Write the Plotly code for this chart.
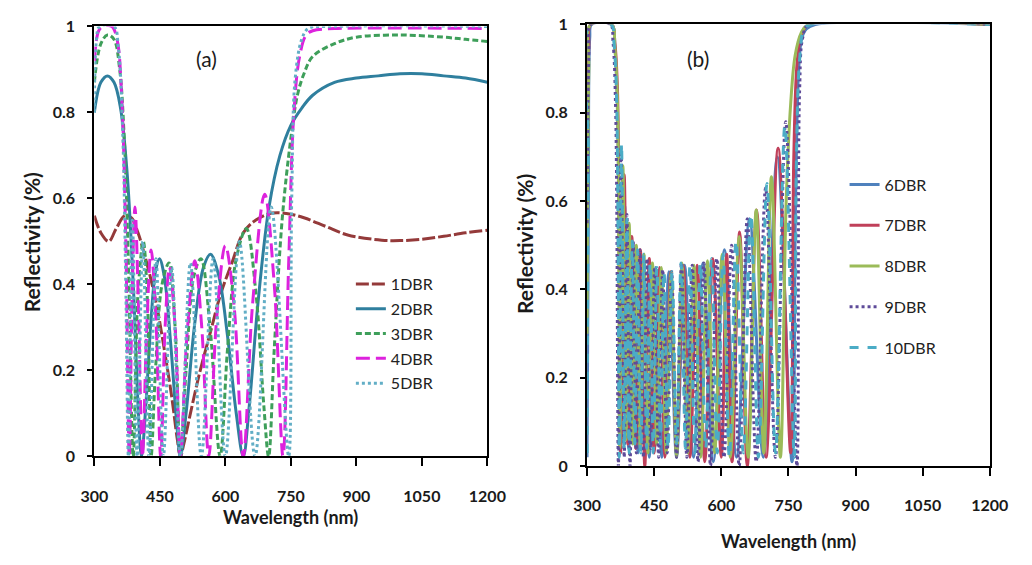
import plotly.graph_objects as go

# ---------------- data: panel (a) ----------------
x_ticks = [300, 450, 600, 750, 900, 1050, 1200]
x_tick_text = ["300", "450", "600", "750", "900", "1050", "1200"]
y_ticks = [0, 0.2, 0.4, 0.6, 0.8, 1.0]
y_tick_text = ["0", "0.2", "0.4", "0.6", "0.8", "1"]

wl_1 = [300,315,333,350,370,385,400,420,441,460,477,490,497,505,520,540,566,590,615,641,670,707,740,780,830,880,958,1000,1050,1100,1150,1200]
r_1 = [0.56,0.52,0.50,0.53,0.56,0.555,0.52,0.45,0.36,0.25,0.14,0.04,0.0,0.03,0.10,0.19,0.29,0.38,0.45,0.52,0.55,0.566,0.565,0.555,0.535,0.515,0.503,0.502,0.505,0.512,0.52,0.526]

wl_2 = [300,315,330,345,360,375,390,400,408,418,430,440,449,460,475,490,497,510,530,550,566,585,605,625,641,655,675,700,725,750,775,800,850,900,950,1000,1050,1100,1150,1200]
r_2 = [0.80,0.87,0.885,0.87,0.81,0.66,0.38,0.12,0.0,0.12,0.32,0.43,0.46,0.42,0.26,0.06,0.0,0.10,0.31,0.44,0.47,0.42,0.28,0.10,0.0,0.12,0.36,0.58,0.70,0.77,0.81,0.84,0.87,0.88,0.885,0.89,0.89,0.885,0.88,0.87]

wl_3 = [300,315,330,345,358,368,378,389,400,412,422,430,440,455,471,485,497,510,528,544,565,588,605,625,648,670,688,699,712,730,750,765,780,800,850,900,1000,1100,1150,1200]
r_3 = [0.87,0.96,0.98,0.97,0.90,0.75,0.45,0.0,0.38,0.50,0.35,0.0,0.20,0.40,0.45,0.30,0.0,0.20,0.42,0.46,0.30,0.0,0.25,0.46,0.53,0.38,0.12,0.0,0.25,0.55,0.74,0.84,0.89,0.93,0.96,0.975,0.98,0.975,0.97,0.965]

wl_4 = [300,310,320,340,352,362,372,380,386,393,401,410,420,430,441,452,462,472,485,497,512,530,546,562,580,600,620,641,662,690,712,732,745,757,770,785,800,850,1200]
r_4 = [0.92,0.99,1.0,1.0,0.97,0.85,0.50,0.0,0.35,0.58,0.35,0.0,0.30,0.48,0.32,0.0,0.30,0.44,0.30,0.0,0.28,0.455,0.30,0.0,0.32,0.49,0.35,0.0,0.35,0.61,0.40,0.0,0.45,0.80,0.93,0.98,0.99,0.995,0.995]

wl_5 = [300,305,312,345,355,365,372,378,387,398,411,425,441,458,477,497,520,545,572,600,632,668,705,745,752,760,775,790,850,1200]
r_5 = [0.80,0.97,1.0,1.0,0.95,0.75,0.40,0.0,0.55,0.0,0.50,0.0,0.46,0.0,0.44,0.0,0.45,0.0,0.46,0.0,0.50,0.0,0.58,0.0,0.60,0.88,0.97,0.995,1.0,1.0]

# ---------------- data: panel (b) ----------------
wl_6 = [300,303,306,310,355,362,368,372,376,384,393,403,414,426,439,453,467,483,500,518,538,559,582,607,634,663,694,725,758,766,773,780,790,810,1200]
r_6 = [0.02,0.6,0.97,1.0,1.0,0.95,0.8,0.5,0.05,0.59,0.04,0.50,0.03,0.47,0.02,0.45,0.02,0.44,0.02,0.455,0.02,0.46,0.01,0.49,0.02,0.56,0.02,0.70,0.01,0.6,0.9,0.97,0.99,1.0,1.0]

wl_7 = [300,304,308,355,362,368,375,383,391,400,409,419,429,439,450,462,474,487,500,515,530,546,563,581,600,612,624,641,658,679,700,727,755,762,770,780,795,1200]
r_7 = [0.76,0.95,1.0,1.0,0.96,0.85,0.03,0.66,0.05,0.52,0.04,0.49,0.0,0.47,0.03,0.45,0.02,0.44,0.03,0.455,0.02,0.455,0.01,0.47,0.02,0.48,0.01,0.53,0.0,0.58,0.02,0.72,0.03,0.7,0.92,0.98,1.0,1.0]

wl_8 = [300,304,308,355,362,368,373,380,387,394,402,410,419,427,436,446,456,466,477,488,500,512,525,539,554,569,585,602,620,640,660,678,695,712,732,745,755,765,778,795,1200]
r_8 = [0.30,0.9,1.0,1.0,0.95,0.82,0.04,0.68,0.06,0.55,0.05,0.50,0.04,0.48,0.03,0.46,0.05,0.45,0.03,0.44,0.02,0.46,0.03,0.455,0.02,0.465,0.03,0.48,0.02,0.52,0.02,0.58,0.03,0.655,0.02,0.6,0.82,0.93,0.98,1.0,1.0]

wl_9 = [300,304,308,352,358,364,370,376,383,389,396,403,410,418,426,434,442,451,460,469,479,489,500,511,523,535,548,561,576,590,606,623,640,658,678,699,721,744,769,775,782,795,1200]
r_9 = [0.55,0.93,1.0,1.0,0.96,0.8,0.0,0.72,0.02,0.57,0.0,0.51,0.03,0.49,0.02,0.47,0.04,0.45,0.02,0.445,0.03,0.44,0.02,0.46,0.02,0.455,0.01,0.46,0.0,0.47,0.02,0.50,0.0,0.56,0.01,0.63,0.02,0.78,0.0,0.85,0.97,1.0,1.0]

wl_10 = [300,303,307,354,360,366,372,377,383,389,394,401,407,413,420,427,433,441,448,456,464,472,481,490,500,510,520,530,541,553,565,578,591,604,618,633,649,666,683,702,721,742,763,768,775,785,800,1200]
r_10 = [0.03,0.7,1.0,1.0,0.96,0.83,0.02,0.73,0.04,0.56,0.03,0.51,0.05,0.49,0.03,0.48,0.04,0.46,0.03,0.45,0.05,0.44,0.04,0.44,0.05,0.46,0.04,0.455,0.03,0.46,0.04,0.47,0.03,0.48,0.02,0.51,0.03,0.57,0.02,0.64,0.03,0.77,0.02,0.7,0.92,0.99,1.0,1.0]

names_a = ["1DBR", "2DBR", "3DBR", "4DBR", "5DBR"]
names_b = ["6DBR", "7DBR", "8DBR", "9DBR", "10DBR"]

# ---------------- styles ----------------
W, H = 1032, 565
def px_x(p): return p / W
def px_y(p): return (H - p) / H

FONT = "Lato"
series_a = [
    (wl_1, r_1, "#943A3A", "13px,3px"),
    (wl_2, r_2, "#2F7F9E", "solid"),
    (wl_3, r_3, "#3E9F5A", "6px,3px"),
    (wl_4, r_4, "#DD22DD", "14px,6px"),
    (wl_5, r_5, "#62AEC6", "dot"),
]
series_b = [
    (wl_6, r_6, "#4F81BD", "solid"),
    (wl_7, r_7, "#C0405A", "solid"),
    (wl_8, r_8, "#9BBB59", "solid"),
    (wl_9, r_9, "#5E4B99", "dot"),
    (wl_10, r_10, "#4BACC6", "dash"),
]

fig = go.Figure()
for (xs, ys, col, dash), nm in zip(series_a, names_a):
    fig.add_trace(go.Scatter(x=xs, y=ys, mode="lines", name=nm, legendgroup=nm,
                             line=dict(color=col, width=3, dash=dash, shape="spline", smoothing=1.0),
                             xaxis="x", yaxis="y", legend="legend"))
for (xs, ys, col, dash), nm in zip(series_b, names_b):
    fig.add_trace(go.Scatter(x=xs, y=ys, mode="lines", name=nm, legendgroup=nm,
                             line=dict(color=col, width=3, dash=dash, shape="spline", smoothing=1.0),
                             xaxis="x2", yaxis="y2", legend="legend2"))

tickfont = dict(family=FONT, size=16, color="#1a1a1a", weight="bold")
xcommon = dict(range=[300, 1200], tickvals=x_ticks, ticktext=x_tick_text, showline=True,
               linecolor="black", linewidth=2, mirror=True, ticks="outside", ticklen=8,
               tickwidth=2, tickcolor="black", showgrid=False, zeroline=False,
               tickfont=tickfont, ticklabelstandoff=16)
ycommon = dict(range=[0, 1], tickvals=y_ticks, ticktext=y_tick_text, showline=True,
               linecolor="black", linewidth=2, mirror=True, ticks="outside", ticklen=5,
               tickwidth=2, tickcolor="black", showgrid=False, zeroline=False,
               tickfont=tickfont, ticklabelstandoff=9)

fig.update_layout(
    width=W, height=H, margin=dict(l=0, r=0, t=0, b=0),
    paper_bgcolor="white", plot_bgcolor="white",
    xaxis=dict(domain=[px_x(83), px_x(489)], anchor="y", **xcommon),
    yaxis=dict(domain=[px_y(462), px_y(17)], anchor="x", **ycommon),
    xaxis2=dict(domain=[px_x(592), px_x(1008)], anchor="y2", **xcommon),
    yaxis2=dict(domain=[px_y(472), px_y(15)], anchor="x2", **ycommon),
    legend=dict(x=px_x(348), y=px_y(266), xanchor="left", yanchor="top",
                bgcolor="rgba(0,0,0,0)", tracegroupgap=1,
                font=dict(family=FONT, size=16, color="#222")),
    legend2=dict(x=px_x(858), y=px_y(163), xanchor="left", yanchor="top",
                 bgcolor="rgba(0,0,0,0)", tracegroupgap=17,
                 font=dict(family=FONT, size=16, color="#222")),
    showlegend=True,
)

ann_font = dict(family=FONT, size=21, color="#1a1a1a")
title_font = dict(family=FONT, size=18, color="#1a1a1a", weight="bold")
ytitle_font = dict(family=FONT, size=21, color="#1a1a1a", weight="bold")
def ann(text, x, y, font, angle=0):
    fig.add_annotation(text=text, x=px_x(x), y=px_y(y), xref="paper", yref="paper",
                       xanchor="center", yanchor="middle", showarrow=False,
                       textangle=angle, font=font)

ann("(a)", 199, 50, ann_font)
ann("(b)", 707, 50, ann_font)
ann("Wavelength (nm)", 286, 525, title_font)
ann("Wavelength (nm)", 800, 549, title_font)
ann("Reflectivity (%)", 19, 240, ytitle_font, -90)
ann("Reflectivity (%)", 528, 242, ytitle_font, -90)

fig.write_html("out.html", config={"displayModeBar": False},
               post_script="document.body.style.margin='0';document.body.style.overflow='hidden';")
